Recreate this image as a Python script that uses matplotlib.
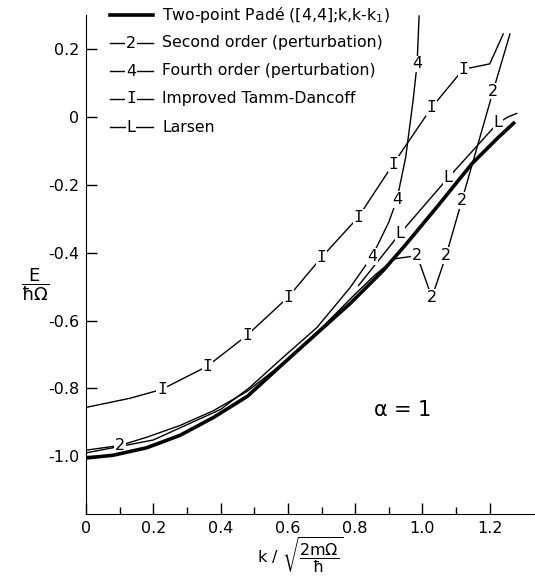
import matplotlib
matplotlib.use('Agg')
import matplotlib.pyplot as plt
from matplotlib.lines import Line2D

plt.rcParams['mathtext.default'] = 'regular'
plt.rcParams['axes.unicode_minus'] = False
plt.rcParams['font.size'] = 11.3

# Two-point Pade ([4,4];k,k-k1)
pade_x = [0, 0.08, 0.18, 0.28, 0.38, 0.48, 0.585, 0.686, 0.785, 0.883, 0.948, 1.046, 1.147, 1.224, 1.275]
pade_y = [-1.005, -0.997, -0.975, -0.938, -0.885, -0.823, -0.728, -0.638, -0.55, -0.453, -0.379, -0.262,
          -0.138, -0.062, -0.015]

# second order perturbation
second_x = [0, 0.101, 0.18, 0.28, 0.38, 0.48, 0.6, 0.7, 0.8, 0.86, 0.918, 0.984, 1.028, 1.07, 1.117, 1.21, 1.26]
second_y = [-0.982, -0.968, -0.944, -0.909, -0.865, -0.808, -0.715, -0.622, -0.522, -0.465, -0.418, -0.409,
            -0.532, -0.409, -0.247, 0.076, 0.244]
second_marks = [1, 11, 12, 13, 14, 15]

# fourth order perturbation
fourth_x = [0, 0.2, 0.4, 0.487, 0.585, 0.686, 0.785, 0.835, 0.85, 0.9, 0.924, 0.95, 0.972, 0.984, 0.99]
fourth_y = [-0.99, -0.952, -0.862, -0.797, -0.709, -0.621, -0.503, -0.432, -0.412, -0.31, -0.244, -0.12,
            0.047, 0.156, 0.297]
fourth_marks = [8, 10, 13]

# improved Tamm-Dancoff
itd_x = [0, 0.131, 0.225, 0.36, 0.478, 0.601, 0.70, 0.809, 0.913, 1.027, 1.121, 1.2, 1.24]
itd_y = [-0.856, -0.829, -0.803, -0.735, -0.644, -0.531, -0.414, -0.296, -0.139, 0.027, 0.140, 0.156, 0.244]
itd_marks = [2, 3, 4, 5, 6, 7, 8, 9, 10]

# Larsen
larsen_x = [0.81, 0.933, 1.076, 1.224, 1.255, 1.28]
larsen_y = [-0.497, -0.344, -0.18, -0.018, 0.0, 0.01]
larsen_marks = [1, 2, 3]

legend_labels = ['Two-point Padé ([4,4];k,k-k$_1$)', 'Second order (perturbation)',
                 'Fourth order (perturbation)', 'Improved Tamm-Dancoff', 'Larsen']
legend_symbols = [None, '2', '4', 'I', 'L']

W, H = 535, 579
fig = plt.figure(figsize=(W / 100, H / 100), dpi=100)
ax = fig.add_axes([86 / W, 65 / H, 447.5 / W, 499 / H])


def mark(x, y, s):
    fam = 'DejaVu Sans Mono' if s == 'I' else 'DejaVu Sans'
    return ax.text(x, y, s, ha='center', va='center', fontsize=11.5, family=fam,
                   bbox=dict(fc='white', ec='none', pad=0.6), zorder=5)


ax.plot(pade_x, pade_y, color='black', lw=2.6, zorder=6, solid_capstyle='butt')
ax.plot(second_x, second_y, color='black', lw=1.0, zorder=3)
ax.plot(fourth_x, fourth_y, color='black', lw=1.0, zorder=3)
ax.plot(itd_x, itd_y, color='black', lw=1.0, zorder=3)
ax.plot(larsen_x, larsen_y, color='black', lw=1.0, zorder=3)

for i in second_marks:
    mark(second_x[i], second_y[i], '2')
for i in fourth_marks:
    mark(fourth_x[i], fourth_y[i], '4')
for i in itd_marks:
    mark(itd_x[i], itd_y[i], 'I')
for i in larsen_marks:
    mark(larsen_x[i], larsen_y[i], 'L')

ax.text(0.853, -0.865, r'$\alpha$ = 1', fontsize=15, ha='left', va='center')

# axes
ax.set_xlim(0, 1.33)
ax.set_ylim(-1.17, 0.3)
ax.spines['top'].set_visible(False)
ax.spines['right'].set_visible(False)
ax.set_xticks([0, 0.2, 0.4, 0.6, 0.8, 1.0, 1.2])
ax.set_xticklabels(['0', '0.2', '0.4', '0.6', '0.8', '1.0', '1.2'])
ax.set_xticks([0.1, 0.3, 0.5, 0.7, 0.9, 1.1], minor=True)
ax.set_yticks([0.2, 0, -0.2, -0.4, -0.6, -0.8, -1.0])
ax.set_yticklabels(['0.2', '0', '-0.2', '-0.4', '-0.6', '-0.8', '-1.0'])
ax.tick_params(direction='in', length=8, width=1, labelsize=11.5, pad=5)
ax.tick_params(which='minor', direction='in', length=5, width=1)

# axis titles
fig.text(35 / W, 1 - 285 / H, r'$\dfrac{E}{\hbar\Omega}$', fontsize=13, ha='center', va='center')
fig.text(300 / W, 1 - 556 / H, r'$k\ /\ \sqrt{\dfrac{2m\Omega}{\hbar}}$', fontsize=11.5,
         ha='center', va='center')

# legend drawn by hand
rows = [15, 43, 71, 99, 127]
for py, lab, sym in zip(rows, legend_labels, legend_symbols):
    yf = 1 - py / H
    lw = 2.6 if sym is None else 1.0
    fig.add_artist(Line2D([110 / W, 153 / W], [yf, yf], color='black', lw=lw))
    if sym is not None:
        fam = 'DejaVu Sans Mono' if sym == 'I' else 'DejaVu Sans'
        fig.text(131 / W, yf, sym, ha='center', va='center', fontsize=11.5, family=fam,
                 bbox=dict(fc='white', ec='none', pad=0.6))
    fig.text(162 / W, yf, lab, ha='left', va='center', fontsize=11.3)

fig.savefig('out.png', dpi=100)
